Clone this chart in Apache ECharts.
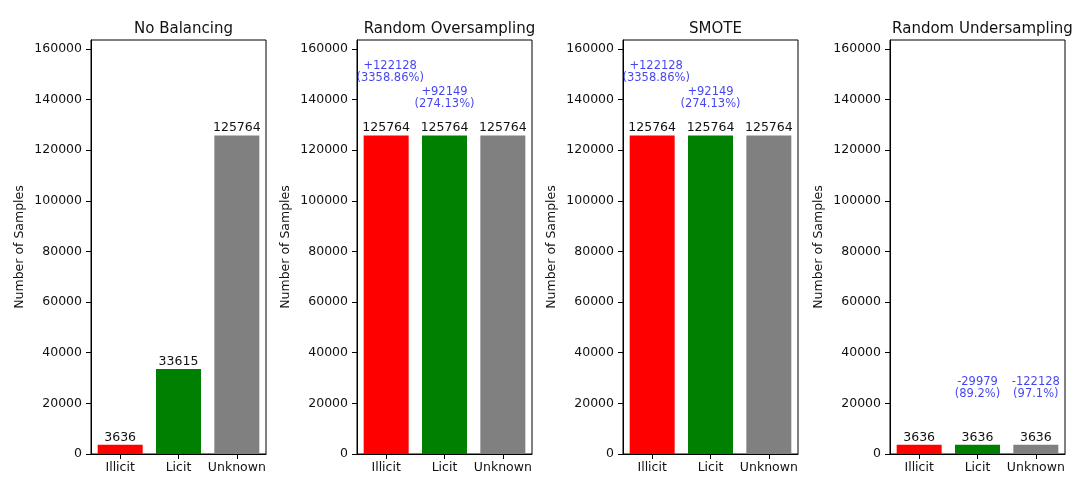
<!DOCTYPE html>
<html>
<head>
<meta charset="utf-8">
<script src="https://cdn.jsdelivr.net/npm/echarts@6/dist/echarts.min.js"></script>
<style>
html,body{margin:0;padding:0;background:#fff;}
#c{width:1075px;height:481px;}
</style>
</head>
<body>
<div id="c"></div>
<script>
// ---- data ----
const categories = ['Illicit', 'Licit', 'Unknown'];
const panelTitles = ['No Balancing', 'Random Oversampling', 'SMOTE', 'Random Undersampling'];
const noBalancing = [3636, 33615, 125764];
const randomOversampling = [125764, 125764, 125764];
const smote = [125764, 125764, 125764];
const randomUndersampling = [3636, 3636, 3636];
const yTicks = [0, 20000, 40000, 60000, 80000, 100000, 120000, 140000, 160000];
const yMax = 163493;
const barColors = ['#ff0000', '#008000', '#808080'];

// change annotations: [category index, y position (data units), text]
const oversampleNotes = [
  [0, 150900, '+122128\n(3358.86%)'],
  [1, 140700, '+92149\n(274.13%)']
];
const smoteNotes = [
  [0, 150900, '+122128\n(3358.86%)'],
  [1, 140700, '+92149\n(274.13%)']
];
const undersampleNotes = [
  [1, 26000, '-29979\n(89.2%)'],
  [2, 26000, '-122128\n(97.1%)']
];

const panelData = [noBalancing, randomOversampling, smote, randomUndersampling];
const panelNotes = [[], oversampleNotes, smoteNotes, undersampleNotes];

// ---- layout ----
const gridLefts = [91, 357, 623, 890];
const gridWidth = 175;
const gridTop = 40;
const gridBottom = 27;
const FONT = 'DejaVu Sans';
const TXT = '#111';

const grids = [], xAxes = [], yAxes = [], series = [], titles = [];
panelData.forEach((vals, i) => {
  grids.push({
    left: gridLefts[i], width: gridWidth, top: gridTop, bottom: gridBottom,
    show: true, borderColor: '#000', borderWidth: 1, backgroundColor: 'transparent'
  });
  titles.push({
    text: panelTitles[i],
    left: gridLefts[i] + gridWidth / 2,
    top: 17,
    textAlign: 'center',
    textStyle: { fontFamily: FONT, fontSize: 15, fontWeight: 'normal', color: TXT }
  });
  xAxes.push({
    gridIndex: i, type: 'category', data: categories,
    axisLine: { show: true, lineStyle: { color: '#000', width: 1 } },
    axisTick: { show: true, alignWithLabel: true, length: 5, lineStyle: { color: '#000' } },
    axisLabel: { interval: 0, hideOverlap: false, fontFamily: FONT, fontSize: 12.5, color: TXT, margin: 7 },
    splitLine: { show: false }
  });
  yAxes.push({
    gridIndex: i, type: 'value', min: 0, max: yMax,
    name: 'Number of Samples', nameLocation: 'middle', nameGap: 65,
    nameTextStyle: { fontFamily: FONT, fontSize: 12.5, color: TXT },
    axisLine: { show: true, lineStyle: { color: '#000', width: 1 } },
    axisTick: { show: true, length: 5, lineStyle: { color: '#000' }, customValues: yTicks },
    axisLabel: {
      fontFamily: FONT, fontSize: 12.5, color: TXT, margin: 9, customValues: yTicks,
      formatter: v => String(v)
    },
    splitLine: { show: false }
  });
  series.push({
    type: 'bar', xAxisIndex: i, yAxisIndex: i,
    data: vals.map((v, k) => ({ value: v, itemStyle: { color: barColors[k] } })),
    barWidth: 45,
    silent: true,
    label: {
      show: true, position: 'top', distance: 1,
      fontFamily: FONT, fontSize: 12.5, color: TXT
    }
  });
  if (panelNotes[i].length) {
    series.push({
      type: 'scatter', xAxisIndex: i, yAxisIndex: i,
      symbolSize: 1, silent: true,
      itemStyle: { color: 'rgba(0,0,0,0)' },
      data: panelNotes[i].map(n => ({
        value: [n[0], n[1]],
        label: { formatter: n[2], offset: [n[0] === 0 ? 4 : 0, 0] }
      })),
      label: {
        show: true, position: 'inside', align: 'center', verticalAlign: 'middle',
        fontFamily: FONT, fontSize: 11.5, lineHeight: 12, color: '#1414f0'
      }
    });
  }
});

const chart = echarts.init(document.getElementById('c'));
chart.setOption({
  backgroundColor: '#fff',
  animation: false,
  title: titles,
  grid: grids,
  xAxis: xAxes,
  yAxis: yAxes,
  series: series
});
</script>
</body>
</html>
